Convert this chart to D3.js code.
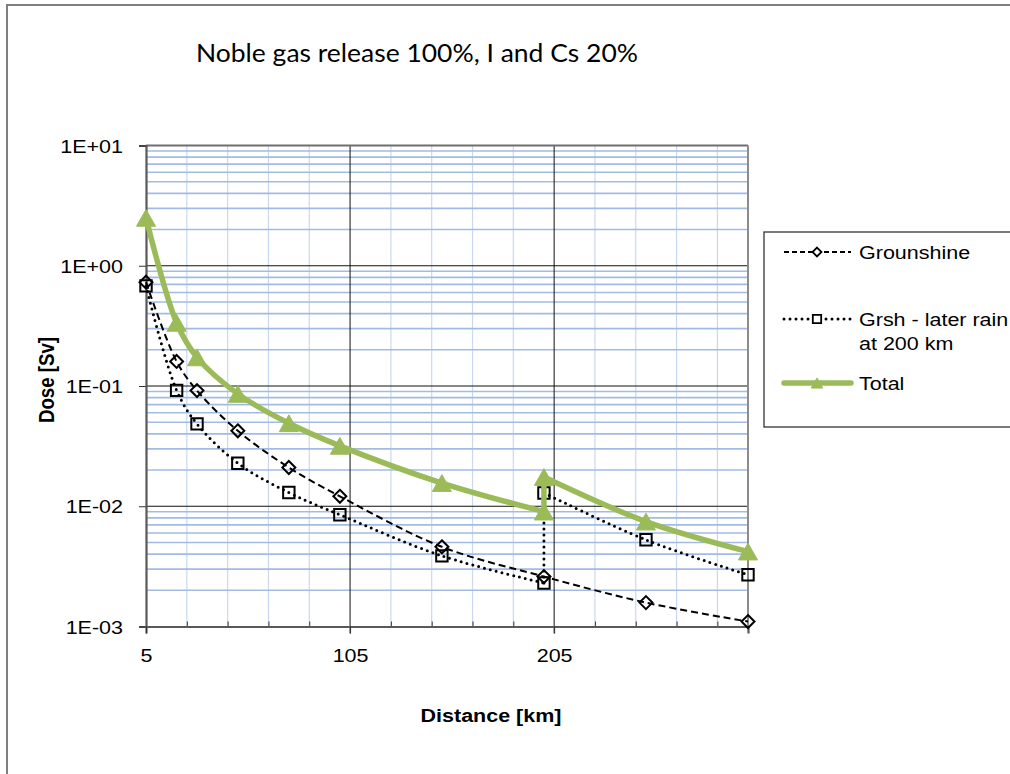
<!DOCTYPE html>
<html>
<head>
<meta charset="utf-8">
<script src="https://cdn.jsdelivr.net/npm/d3@7"></script>
<style>
  body { margin: 0; background: #fff; }
  svg { display: block; }
  text { font-family: "Liberation Sans", Arial, sans-serif; fill: #000; }
  text.title { font-family: Lato, "Open Sans", sans-serif; }
</style>
</head>
<body>
<svg id="chart" width="1010" height="774"></svg>
<script>
// Dose versus distance, three series on a log scale
const groundDistance = [5, 20, 30, 50, 75, 100, 150, 200, 250, 300];
const groundshine    = [0.73, 0.16, 0.0916, 0.0424, 0.021, 0.0121, 0.0046, 0.0026, 0.00158, 0.0011];

const rainDistance = [5, 20, 30, 50, 75, 100, 150, 200, 200, 250, 300];
const laterRain    = [0.68, 0.092, 0.0484, 0.0228, 0.013, 0.0085, 0.00387, 0.0023, 0.0129, 0.00526, 0.00269];

const totalDistance = [5, 20, 30, 50, 75, 100, 150, 200, 200, 250, 300];
const total         = [2.5, 0.335, 0.173, 0.086, 0.049, 0.0318, 0.0156, 0.00903, 0.0175, 0.00746, 0.0042];

const xTicks = [5, 105, 205];
const xTickLabels = ["5", "105", "205"];
const yTicks = [10, 1, 0.1, 0.01, 0.001];
const yTickLabels = ["1E+01", "1E+00", "1E-01", "1E-02", "1E-03"];

const titleText = "Noble gas release 100%, I and Cs 20%";
const xTitle = "Distance [km]";
const yTitle = "Dose [Sv]";
const legendLines = [["Grounshine"], ["Grsh - later rain", "at 200 km"], ["Total"]];

const GREEN = "#9bbb59";
const SX = 1.15;          // horizontal stretch of the lettering
const FS = 18.7;          // font size for axis and legend text

const svg = d3.select("#chart");

// outer chart frame
svg.append("rect").attr("x", 7).attr("y", 5).attr("width", 1020).attr("height", 790)
  .attr("fill", "#fff").attr("stroke", "#7f7f7f").attr("stroke-width", 2);

const x = d3.scaleLinear().domain([5, 300]).range([146, 748]);
const y = d3.scaleLog().domain([0.001, 10]).range([626.5, 145.5]);

const [x0, x1] = x.range();
const [y0, y1] = y.range();

// minor vertical gridlines every 20 km
const xMinor = d3.range(25, 300, 20).filter(v => !xTicks.includes(v));
svg.append("g").selectAll("line").data(xMinor).join("line")
  .attr("x1", d => x(d)).attr("x2", d => x(d)).attr("y1", y1).attr("y2", y0)
  .attr("stroke", "#c9d8f0").attr("stroke-width", 1.2);

// minor horizontal gridlines at 2..9 of each decade
const yMinor = y.ticks().filter(v => !yTicks.some(t => Math.abs(t - v) / t < 1e-9));
svg.append("g").selectAll("line").data(yMinor).join("line")
  .attr("x1", x0).attr("x2", x1).attr("y1", d => y(d)).attr("y2", d => y(d))
  .attr("stroke", "#a3bbe4").attr("stroke-width", 1.6);

// major gridlines
svg.append("g").selectAll("line").data(yTicks.filter(v => v < 10 && v > 0.001)).join("line")
  .attr("x1", x0).attr("x2", x1).attr("y1", d => y(d)).attr("y2", d => y(d))
  .attr("stroke", "#111").attr("stroke-width", 1);
svg.append("g").selectAll("line").data(xTicks.slice(1)).join("line")
  .attr("x1", d => x(d)).attr("x2", d => x(d)).attr("y1", y1).attr("y2", y0 + 7)
  .attr("stroke", "#111").attr("stroke-width", 1);

// plot-area top and right edges
svg.append("line").attr("x1", x0).attr("x2", x1).attr("y1", y1).attr("y2", y1)
  .attr("stroke", "#6f6f6f").attr("stroke-width", 2);
svg.append("line").attr("x1", x1).attr("x2", x1).attr("y1", y1).attr("y2", y0)
  .attr("stroke", "#8c8c8c").attr("stroke-width", 2);

// y axis
const yAxis = svg.append("g").attr("transform", `translate(${x0},0)`)
  .call(d3.axisLeft(y).tickValues(yTicks).tickSize(7).tickPadding(0)
    .tickFormat((d, i) => yTickLabels[i]));
yAxis.select(".domain").attr("stroke", "#595959").attr("stroke-width", 2.2);
yAxis.selectAll(".tick line").attr("stroke", "#333").attr("stroke-width", 1);
yAxis.selectAll(".tick text")
  .attr("x", -23 / SX).attr("dy", "0.36em")
  .attr("transform", `scale(${SX},1)`)
  .attr("font-size", FS)
  .attr("fill", "#000").attr("text-anchor", "end");

// x axis: minor ticks inside, major ticks outside
const xMinorAxis = svg.append("g").attr("transform", `translate(0,${y0})`)
  .call(d3.axisBottom(x).tickValues(xMinor).tickSizeInner(-5).tickSizeOuter(0).tickFormat(""));
xMinorAxis.select(".domain").remove();
xMinorAxis.selectAll(".tick line").attr("stroke", "#333");

const xAxis = svg.append("g").attr("transform", `translate(0,${y0})`)
  .call(d3.axisBottom(x).tickValues(xTicks).tickSize(7).tickPadding(0)
    .tickFormat((d, i) => xTickLabels[i]));
xAxis.select(".domain").attr("stroke", "#595959").attr("stroke-width", 2.2);
xAxis.selectAll(".tick line").attr("stroke", "#333").attr("stroke-width", 1);
xAxis.selectAll(".tick text")
  .attr("y", 36).attr("dy", 0)
  .attr("transform", `scale(${SX},1)`)
  .attr("font-size", FS)
  .attr("fill", "#000");

// stretched text helper
function stretched(g, px, py, txt, opts = {}) {
  const t = g.append("text")
    .attr("transform", `translate(${px},${py}) scale(${SX},1)${opts.rotate ? ` rotate(${opts.rotate})` : ""}`)
    .attr("font-size", opts.size || FS)
    .attr("text-anchor", opts.anchor || "start")
    .text(txt);
  if (opts.bold) t.attr("font-weight", "bold");
  if (opts.dy) t.attr("dy", opts.dy);
  return t;
}

// axis titles
stretched(svg, 491, 722, xTitle, { anchor: "middle", bold: true });
stretched(svg, 46, 380, yTitle, { anchor: "middle", bold: true, rotate: -90, dy: "0.36em" });

// chart title
svg.append("text").attr("class", "title").attr("x", 196).attr("y", 62)
  .attr("font-size", 25)
  .attr("textLength", 442).attr("lengthAdjust", "spacingAndGlyphs")
  .text(titleText);

// marker shapes
const diamond = { draw(ctx, size) { const r = Math.sqrt(size / 2);
  ctx.moveTo(0, -r); ctx.lineTo(r, 0); ctx.lineTo(0, r); ctx.lineTo(-r, 0); ctx.closePath(); } };
const triangle = { draw(ctx, size) { const w = Math.sqrt(size * 2.2), h = w * 0.88;
  ctx.moveTo(0, -h / 2); ctx.lineTo(w / 2, h / 2); ctx.lineTo(-w / 2, h / 2); ctx.closePath(); } };

const line = d3.line().x(d => x(d[0])).y(d => y(d[1])).curve(d3.curveCatmullRom.alpha(0.5));

// split a series into smooth runs, with straight connectors where the distance repeats
function runs(pts) {
  const out = [];
  let cur = [pts[0]];
  for (let i = 1; i < pts.length; i++) {
    if (pts[i][0] === pts[i - 1][0]) {
      out.push(cur);
      out.push([pts[i - 1], pts[i]]);
      cur = [pts[i]];
    } else cur.push(pts[i]);
  }
  out.push(cur);
  return out;
}

const groundPts = groundDistance.map((d, i) => [d, groundshine[i]]);
const rainPts = rainDistance.map((d, i) => [d, laterRain[i]]);
const totalPts = totalDistance.map((d, i) => [d, total[i]]);

const series = svg.append("g");

// Groundshine: dashed
series.append("g").selectAll("path").data(runs(groundPts)).join("path")
  .attr("d", line).attr("fill", "none")
  .attr("stroke", "#000").attr("stroke-width", 2).attr("stroke-dasharray", "7,4");
// Later rain: dotted
series.append("g").selectAll("path").data(runs(rainPts)).join("path")
  .attr("d", line).attr("fill", "none")
  .attr("stroke", "#000").attr("stroke-width", 3).attr("stroke-linecap", "round")
  .attr("stroke-dasharray", "0,6");

series.append("g").selectAll("path").data(groundPts).join("path")
  .attr("transform", d => `translate(${x(d[0])},${y(d[1])})`)
  .attr("d", d3.symbol(diamond, 84))
  .attr("fill", "none").attr("stroke", "#000").attr("stroke-width", 2);
series.append("g").selectAll("path").data(rainPts).join("path")
  .attr("transform", d => `translate(${x(d[0])},${y(d[1])})`)
  .attr("d", d3.symbol(d3.symbolSquare, 130))
  .attr("fill", "none").attr("stroke", "#000").attr("stroke-width", 2);

// Total: thick green with triangles
series.append("g").selectAll("path").data(runs(totalPts)).join("path")
  .attr("d", line).attr("fill", "none")
  .attr("stroke", GREEN).attr("stroke-width", 5.5).attr("stroke-linejoin", "round")
  .attr("stroke-linecap", "round");
series.append("g").selectAll("path").data(totalPts).join("path")
  .attr("transform", d => `translate(${x(d[0])},${y(d[1])})`)
  .attr("d", d3.symbol(triangle, 165))
  .attr("fill", GREEN).attr("stroke", GREEN).attr("stroke-width", 1);

// legend
const lg = svg.append("g");
lg.append("rect").attr("x", 764).attr("y", 232).attr("width", 300).attr("height", 195)
  .attr("fill", "#fff").attr("stroke", "#333").attr("stroke-width", 1.3);

const legendY = [252, 319, 383];
const legendStyles = [
  { dash: "5,3", width: 2, color: "#000", cap: "butt", marker: diamond, size: 40, fill: "none" },
  { dash: "0,6", width: 3, color: "#000", cap: "round", marker: d3.symbolSquare, size: 70, fill: "none" },
  { dash: null, width: 5.5, color: GREEN, cap: "round", marker: triangle, size: 60, fill: GREEN }
];
legendStyles.forEach((s, i) => {
  const ly = legendY[i];
  const l = lg.append("line").attr("x1", 784).attr("x2", 851).attr("y1", ly).attr("y2", ly)
    .attr("stroke", s.color).attr("stroke-width", s.width).attr("stroke-linecap", s.cap);
  if (s.dash) l.attr("stroke-dasharray", s.dash);
  lg.append("path").attr("transform", `translate(817,${ly})`)
    .attr("d", d3.symbol(s.marker, s.size))
    .attr("fill", s.fill === "none" ? "#fff" : s.fill)
    .attr("stroke", s.color).attr("stroke-width", i === 2 ? 1 : 1.8);
  legendLines[i].forEach((txt, j) => {
    stretched(lg, 859, ly + j * 24, txt, { dy: "0.36em" });
  });
});
</script>
</body>
</html>
